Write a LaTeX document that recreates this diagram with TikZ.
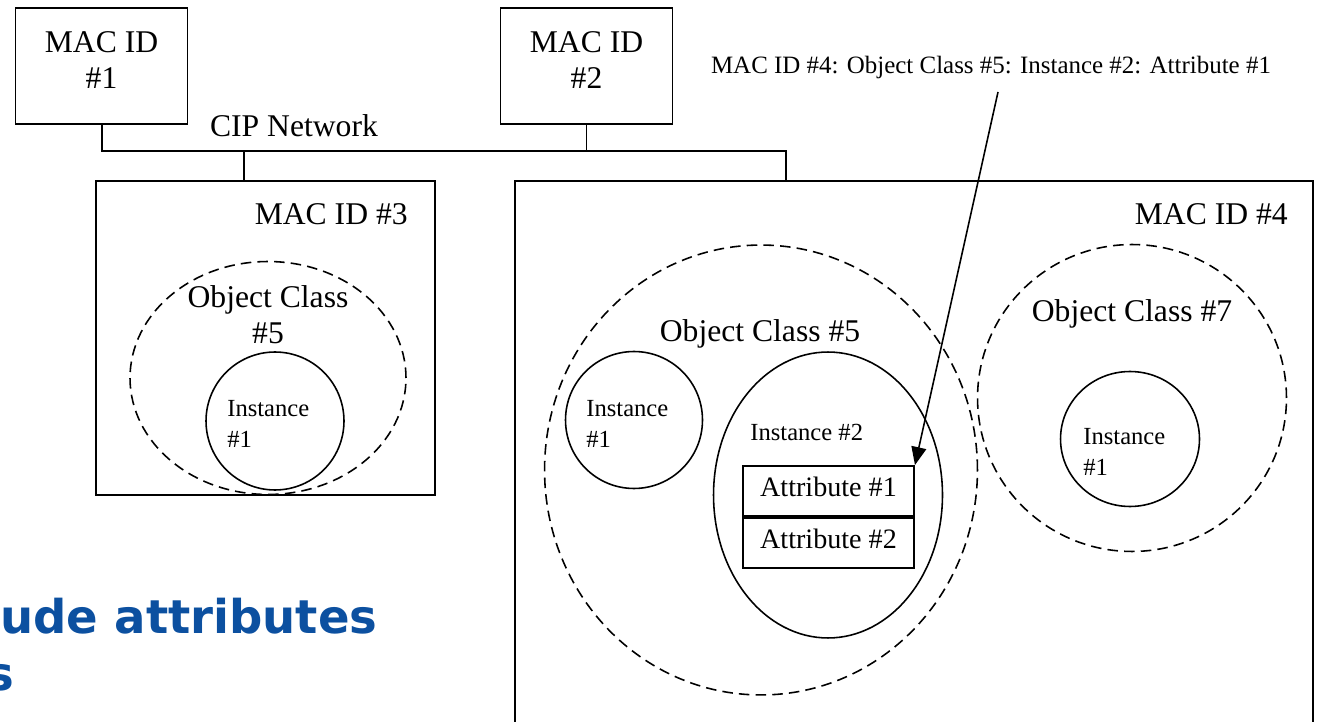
\documentclass[tikz,border=0pt]{standalone}
\usepackage{fontspec}
\setmainfont{Liberation Serif}
\newfontfamily\bannerfont{DejaVu Sans}
\usetikzlibrary{arrows.meta, positioning, shapes.geometric}
\definecolor{bannerblue}{RGB}{12,80,160}

\begin{document}
\begin{tikzpicture}[x=0.02cm, y=-0.02cm,
  macbox/.style={draw, line width=1.1pt, minimum width=3.44cm, minimum height=2.32cm, inner sep=0pt},
  devbox/.style={draw, line width=1.1pt, inner sep=0pt},
  objcls/.style={draw, ellipse, dash pattern=on 6pt off 3.5pt, line width=0.9pt, inner sep=0pt},
  inst/.style={draw, ellipse, line width=0.9pt, inner sep=0pt},
  attr/.style={draw, line width=1.1pt, minimum width=3.42cm, minimum height=1.0cm, inner sep=0pt, text depth=5pt, font=\fontsize{16}{18}\selectfont},
  biglbl/.style={inner sep=0pt, align=center, font=\fontsize{18}{20.5}\selectfont},
  instlbl/.style={inner sep=0pt, align=left, anchor=west, font=\fontsize{14}{17.5}\selectfont},
  bus/.style={line width=1.1pt},
  pointer/.style={-{Triangle[length=0.36cm, width=0.3cm]}, line width=0.9pt}
]
\useasboundingbox (0,0) rectangle (1318,722);
\clip (0,0) rectangle (1318,722);

% Devices on the network
\node[macbox] (m1) at (101.5,66) {};
\node[biglbl] (m1t) at (101.5,60) {MAC ID\\\#1};
\node[macbox] (m2) at (586.5,66) {};
\node[biglbl] (m2t) at (586.5,60) {MAC ID\\\#2};
\node[biglbl] (cip) at (294,126) {CIP Network};

\node[devbox, minimum width=6.78cm, minimum height=6.28cm] (m3) at (265.5,338) {};
\node[biglbl, anchor=east] (m3t) at (408,214) {MAC ID \#3};
\node[devbox, minimum width=15.96cm, minimum height=12cm] (m4) at (914,481) {};
\node[biglbl, anchor=east] (m4t) at (1288,214) {MAC ID \#4};

% Bus
\coordinate (bus) at (102,151);
\coordinate (tap3) at (244,151);
\coordinate (tap4) at (786,151);
\draw[bus] (m1.south -| bus) -- (bus) -- (tap4) -- (tap4 |- m4.north);
\draw[bus] (m2.south) -- (m2.south |- bus);
\draw[bus] (tap3) -- (tap3 |- m3.north);

% MAC ID #3 contents
\node[objcls, minimum width=5.52cm, minimum height=4.66cm] (oc3) at (268,378) {};
\node[biglbl] (oc3t) at (268,315) {Object Class\\\#5};
\node[inst, minimum width=2.76cm, minimum height=2.76cm] (i31) at (275,421) {};
\node[instlbl] (i31t) at (227,424) {Instance\\\#1};

% MAC ID #4 contents
\node[objcls, minimum width=8.66cm, minimum height=9.0cm] (oc5) at (761,470) {};
\node[biglbl] (oc5t) at (760,334) {Object Class \#5};
\node[inst, minimum width=2.74cm, minimum height=2.74cm] (i51) at (634,420) {};
\node[instlbl] (i51t) at (586,424) {Instance\\\#1};
\node[inst, minimum width=4.58cm, minimum height=5.72cm] (i52) at (828,495) {};
\node[instlbl] (i52t) at (750,432) {Instance \#2};
\node[attr] (a1) at (828.5,491) {Attribute \#1};
\node[attr, below=0pt of a1] (a2) {Attribute \#2};

\node[objcls, minimum width=6.18cm, minimum height=6.14cm] (oc7) at (1132,398) {};
\node[biglbl] (oc7t) at (1132,314) {Object Class \#7};
\node[inst, minimum width=2.78cm, minimum height=2.7cm] (i71) at (1130,439) {};
\node[instlbl] (i71t) at (1083,452) {Instance\\\#1};

% Path label and pointer
\node[inner sep=0pt, font=\fontsize{14.2}{17}\selectfont] (path) at (991,68) {MAC ID \#4: Object Class \#5: Instance \#2: Attribute \#1};
\coordinate (ptr) at (998,92);
\draw[pointer] (ptr) -- (a1.north east);

% Cut-off slide text
\node[inner sep=0pt, anchor=base west, text=bannerblue, font=\bannerfont\bfseries\fontsize{26.5}{30}\selectfont] (ban1) at (0,633) {ude attributes};
\node[inner sep=0pt, anchor=base east, text=bannerblue, font=\bannerfont\bfseries\fontsize{26.5}{30}\selectfont] (ban2) at (15,690) {s};
\end{tikzpicture}
\end{document}
